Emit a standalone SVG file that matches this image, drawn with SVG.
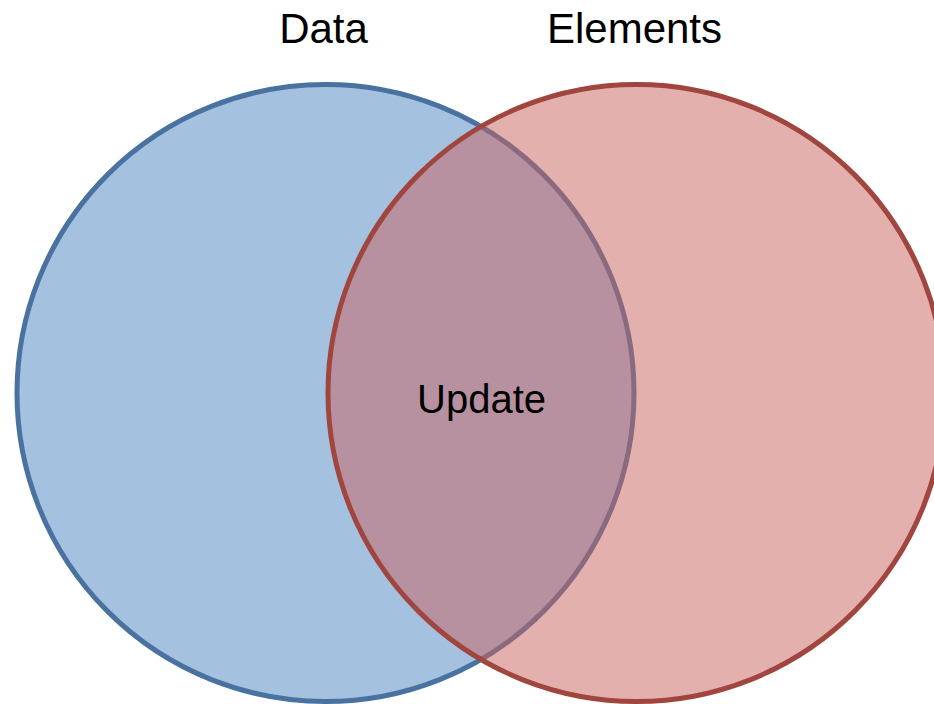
<svg xmlns="http://www.w3.org/2000/svg" width="934" height="704" viewBox="0 0 934 704">
  <style>
    .label { font-family: "Liberation Sans", Arial, sans-serif; fill: #000000; text-anchor: middle; }
    .set { stroke-width: 5; }
    #data .set { fill: #a5c1e0; stroke: #4a72a0; }
    #elements .set { fill: rgba(201, 97, 93, 0.5); stroke: #a0463f; }
  </style>
  <rect width="934" height="704" fill="#ffffff"/>
  <g id="data">
    <circle class="set" cx="325.5" cy="393" r="308.5"/>
    <text class="label" x="323.5" y="43" font-size="42">Data</text>
  </g>
  <g id="elements">
    <circle class="set" cx="636.5" cy="393" r="308.5"/>
    <text class="label" x="634.5" y="43" font-size="42">Elements</text>
  </g>
  <g id="update">
    <text class="label" x="481.5" y="413" font-size="40">Update</text>
  </g>
  <g id="connectors"/>
</svg>
